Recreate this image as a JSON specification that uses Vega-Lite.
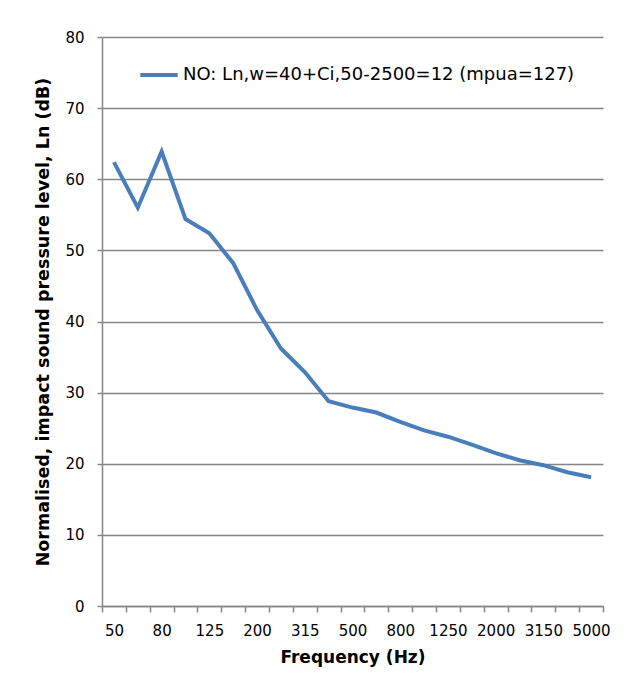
{
  "$schema": "https://vega.github.io/schema/vega-lite/v6.json",
  "autosize": "none",
  "width": 501,
  "height": 569,
  "padding": {"left": 102, "top": 37, "right": 23, "bottom": 90},
  "background": "white",
  "config": {
    "font": "DejaVu Sans",
    "view": {"stroke": null},
    "axis": {"labelFont": "DejaVu Sans", "titleFont": "DejaVu Sans", "labelColor": "#000000", "titleColor": "#000000", "domainColor": "#868686", "tickColor": "#868686", "gridColor": "#868686", "domainWidth": 1.5, "tickWidth": 1.5, "gridWidth": 1.3}
  },
  "data": {
    "values": [
      {"freq": "50", "Ln": 62.4, "series": "NO: Ln,w=40+Ci,50-2500=12 (mpua=127)"},
      {"freq": "63", "Ln": 56.0, "series": "NO: Ln,w=40+Ci,50-2500=12 (mpua=127)"},
      {"freq": "80", "Ln": 63.9, "series": "NO: Ln,w=40+Ci,50-2500=12 (mpua=127)"},
      {"freq": "100", "Ln": 54.4, "series": "NO: Ln,w=40+Ci,50-2500=12 (mpua=127)"},
      {"freq": "125", "Ln": 52.4, "series": "NO: Ln,w=40+Ci,50-2500=12 (mpua=127)"},
      {"freq": "160", "Ln": 48.2, "series": "NO: Ln,w=40+Ci,50-2500=12 (mpua=127)"},
      {"freq": "200", "Ln": 41.6, "series": "NO: Ln,w=40+Ci,50-2500=12 (mpua=127)"},
      {"freq": "250", "Ln": 36.2, "series": "NO: Ln,w=40+Ci,50-2500=12 (mpua=127)"},
      {"freq": "315", "Ln": 32.9, "series": "NO: Ln,w=40+Ci,50-2500=12 (mpua=127)"},
      {"freq": "400", "Ln": 28.8, "series": "NO: Ln,w=40+Ci,50-2500=12 (mpua=127)"},
      {"freq": "500", "Ln": 27.9, "series": "NO: Ln,w=40+Ci,50-2500=12 (mpua=127)"},
      {"freq": "630", "Ln": 27.2, "series": "NO: Ln,w=40+Ci,50-2500=12 (mpua=127)"},
      {"freq": "800", "Ln": 25.9, "series": "NO: Ln,w=40+Ci,50-2500=12 (mpua=127)"},
      {"freq": "1000", "Ln": 24.7, "series": "NO: Ln,w=40+Ci,50-2500=12 (mpua=127)"},
      {"freq": "1250", "Ln": 23.8, "series": "NO: Ln,w=40+Ci,50-2500=12 (mpua=127)"},
      {"freq": "1600", "Ln": 22.7, "series": "NO: Ln,w=40+Ci,50-2500=12 (mpua=127)"},
      {"freq": "2000", "Ln": 21.5, "series": "NO: Ln,w=40+Ci,50-2500=12 (mpua=127)"},
      {"freq": "2500", "Ln": 20.5, "series": "NO: Ln,w=40+Ci,50-2500=12 (mpua=127)"},
      {"freq": "3150", "Ln": 19.8, "series": "NO: Ln,w=40+Ci,50-2500=12 (mpua=127)"},
      {"freq": "4000", "Ln": 18.8, "series": "NO: Ln,w=40+Ci,50-2500=12 (mpua=127)"},
      {"freq": "5000", "Ln": 18.1, "series": "NO: Ln,w=40+Ci,50-2500=12 (mpua=127)"}
    ]
  },
  "mark": {"type": "line", "strokeWidth": 4, "strokeJoin": "miter"},
  "encoding": {
    "x": {
      "field": "freq",
      "type": "ordinal",
      "sort": null,
      "scale": {"type": "band", "paddingInner": 0, "paddingOuter": 0},
      "axis": {
        "title": "Frequency (Hz)",
        "titleFontSize": 17,
        "titleFontWeight": "bold",
        "titlePadding": 11,
        "labelFontSize": 15,
        "labelAngle": 0,
        "labelPadding": 11,
        "tickBand": "extent",
        "tickSize": 6,
        "grid": false,
        "labelExpr": "indexof(['50','80','125','200','315','500','800','1250','2000','3150','5000'], datum.label) >= 0 ? datum.label : ''"
      }
    },
    "y": {
      "field": "Ln",
      "type": "quantitative",
      "scale": {"domain": [0, 80]},
      "axis": {
        "title": "Normalised, impact sound pressure level, Ln (dB)",
        "titleFontSize": 17.5,
        "titleFontWeight": "bold",
        "titlePadding": 12,
        "labelFontSize": 15,
        "labelPadding": 13,
        "tickSize": 5,
        "values": [0, 10, 20, 30, 40, 50, 60, 70, 80],
        "grid": true
      }
    },
    "color": {
      "field": "series",
      "type": "nominal",
      "scale": {"range": ["#4a7ebb"]},
      "legend": {
        "title": null,
        "orient": "none",
        "legendX": 36,
        "legendY": 17,
        "symbolType": "stroke",
        "symbolSize": 1400,
        "symbolStrokeWidth": 4,
        "labelOffset": 3,
        "labelFontSize": 18,
        "labelFont": "DejaVu Sans",
        "labelColor": "#000000",
        "labelLimit": 600
      }
    }
  }
}
